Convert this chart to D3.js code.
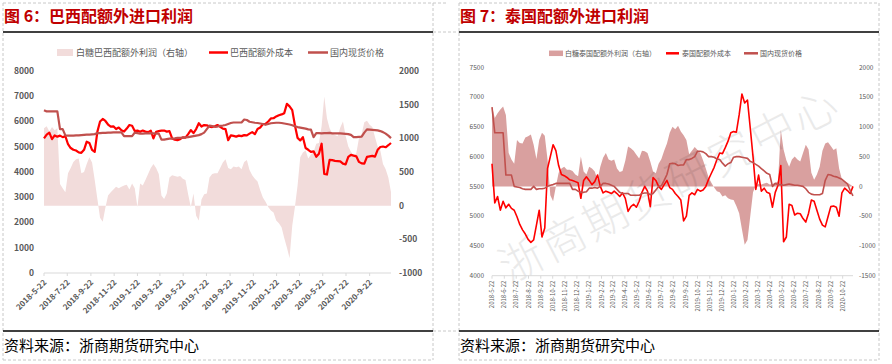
<!DOCTYPE html>
<html><head><meta charset="utf-8">
<script src="https://cdn.jsdelivr.net/npm/d3@7"></script>
<style>body{margin:0;background:#fff}svg{display:block}</style>
</head><body>
<svg id="c" width="892" height="364"></svg>
<script>
// weekly observations starting 2018-05-22
const startDate = "2018-05-22";

const brazilProfit = [1150,1180,1100,1170,1120,1150,320,260,200,480,
560,650,690,700,480,500,620,720,640,380,
100,-180,-240,-30,150,200,240,280,260,280,
300,310,240,330,260,-20,330,300,380,470,
560,620,560,470,150,100,180,420,450,440,
430,440,400,380,170,-20,180,-150,-220,90,
170,180,420,470,480,480,560,640,690,560,
540,580,570,580,540,650,680,530,450,400,
360,230,120,60,-20,-70,-100,-220,-260,-320,
-480,-620,-780,-300,-20,300,720,790,820,700,
760,800,920,930,1180,1620,1300,1150,1070,1050,
1030,1160,1250,1040,880,800,740,780,1000,1060,
1240,1260,1200,1170,1020,880,820,620,540,420,
200];
const brazilCost = [5330,5480,5560,5300,5450,5400,5440,5380,5420,5100,
4950,4880,4850,4780,4760,4880,5200,5150,4880,4800,
5600,6000,6100,6020,5880,5800,5810,5700,5760,5650,
5600,5720,5860,5830,5620,5640,5590,5640,5600,5580,
5640,5330,5590,5620,5640,5640,5600,5620,5330,5280,
5260,5300,5370,5360,5500,5660,5540,5700,5930,5800,
5860,5850,5800,5780,5810,5860,5790,5720,5700,5260,
5450,5430,5400,5440,5420,5460,5450,5520,5580,5500,
5700,5760,5900,5910,6000,6120,6130,6200,6250,6280,
6330,6700,6600,6450,5850,5350,5250,5380,4950,4880,
4800,4820,4600,4720,5120,3920,3900,4480,4470,4440,
4430,4420,4330,4300,4600,4680,4650,4620,4400,4340,
4330,4600,4620,4640,4610,4880,4990,5010,4980,5060,
5150];
const brazilPrice = [6450,6400,6400,6400,6400,6400,5700,5700,5450,5440,
5440,5440,5450,5450,5460,5470,5480,5480,5490,5500,
5540,5540,5550,5550,5560,5560,5570,5570,5570,5570,
5420,5420,5420,5420,5560,5540,5520,5520,5530,5530,
5530,5530,5520,5520,5280,5280,5300,5320,5320,5330,
5350,5350,5360,5370,5380,5400,5420,5440,5460,5500,
5560,5700,5840,5820,5790,5800,5830,5840,5860,5900,
5940,5960,5960,5960,5960,6080,6060,5990,5970,5950,
5940,5920,5900,5870,5900,5930,5940,5950,5950,5940,
5920,5900,5880,5850,5810,5780,5760,5740,5720,5690,
5680,5380,5540,5540,5530,5540,5540,5550,5530,5530,
5530,5530,5520,5510,5500,5470,5380,5380,5390,5400,
5560,5690,5680,5670,5660,5650,5620,5580,5520,5440,
5340];

const thaiProfit = [1340,1150,1230,1290,1340,1200,560,450,380,780,
730,720,820,840,870,700,460,780,900,850,
450,-150,-250,0,230,300,330,280,280,260,
200,170,500,250,200,330,300,250,110,330,
480,560,450,430,450,300,240,260,430,670,
640,600,530,470,600,590,560,420,250,220,
380,460,600,720,900,1000,960,1020,920,860,
780,540,600,660,610,560,440,300,150,60,
-20,-80,-100,-170,-150,-200,-220,-230,-330,-450,
-720,-980,-900,-500,-100,20,40,30,50,60,
30,40,60,80,950,620,440,330,450,500,
450,420,560,700,620,230,110,200,330,600,
720,740,680,610,640,300,120,80,60,30,
0];
const thaiCost = [5880,5220,5330,5100,5250,5140,5200,5130,5100,4990,
4860,4770,4700,4610,4560,4600,4850,5100,4650,4800,
5800,6000,6200,6100,5850,5700,5680,5650,5610,5600,
5580,5560,5300,5600,5660,5600,5530,5580,5690,5500,
5390,5420,5400,5380,5420,5380,5330,5390,5300,5080,
5160,5200,5150,5250,5400,5500,5420,5160,5650,5600,
5500,5450,5530,5600,5480,5450,5380,5330,5270,4920,
5000,5350,5390,5360,5450,5420,5440,5500,5620,5720,
5820,5950,6060,6050,6150,6260,6400,6420,6410,6700,
7050,6900,6950,6480,6000,5450,5690,5420,5470,5400,
5380,5150,5400,5520,5850,4570,4650,5200,5180,5020,
5050,5040,4960,4900,5050,5270,5250,5100,4950,4850,
4820,4990,5160,5170,5150,5000,5390,5470,5430,5380,
5500];
const thaiPrice = [6830,6400,6400,6400,6400,5690,5690,5690,5500,5490,
5480,5460,5450,5450,5450,5500,5450,5460,5460,5470,
5500,5520,5530,5550,5550,5550,5550,5550,5550,5450,
5450,5420,5400,5400,5410,5470,5470,5480,5470,5500,
5550,5550,5540,5520,5500,5450,5400,5380,5380,5380,
5350,5350,5350,5350,5380,5390,5390,5360,5380,5440,
5500,5510,5600,5700,5880,5890,5880,5850,5860,5860,
5950,5950,5970,6000,6090,6090,6080,6050,6000,6000,
5990,5960,5950,5890,5840,5880,5900,5990,6000,6000,
5990,5980,5970,5920,5900,5870,5840,5800,5760,5720,
5700,5500,5550,5530,5530,5520,5530,5540,5530,5520,
5520,5510,5500,5460,5400,5370,5360,5360,5360,5380,
5600,5700,5690,5670,5660,5640,5620,5580,5540,5430,
5340];

const brazilTickLabels = ["2018-5-22","2018-7-22","2018-9-22","2018-11-22","2019-1-22","2019-3-22","2019-5-22","2019-7-22","2019-9-22","2019-11-22","2020-1-22","2020-3-22","2020-5-22","2020-7-22","2020-9-22"];
const thaiTickLabels = ["2018-5-22","2018-6-22","2018-7-22","2018-8-22","2018-9-22","2018-10-22","2018-11-22","2018-12-22","2019-1-22","2019-2-22","2019-3-22","2019-4-22","2019-5-22","2019-6-22","2019-7-22","2019-8-22","2019-9-22","2019-10-22","2019-11-22","2019-12-22","2020-1-22","2020-2-22","2020-3-22","2020-4-22","2020-5-22","2020-6-22","2020-7-22","2020-8-22","2020-9-22","2020-10-22"];
const brazilLeftTicks = [0,1000,2000,3000,4000,5000,6000,7000,8000];
const brazilRightTicks = [-1000,-500,0,500,1000,1500,2000];
const thaiLeftTicks = [4000,4500,5000,5500,6000,6500,7000,7500];
const thaiRightTicks = [-1500,-1000,-500,0,500,1000,1500,2000];

const brazilTitle = "图 6：巴西配额外进口利润";
const thaiTitle = "图 7：泰国配额外进口利润";
const brazilLegend = ["白糖巴西配额外利润（右轴）","巴西配额外成本","国内现货价格"];
const thaiLegend = ["白糖泰国配额外利润（右轴）","泰国配额外成本","国内现货价格"];
const source = "资料来源：浙商期货研究中心";
const watermark = "浙商期货研究中心";

const FONT = "'Noto Sans CJK SC','Microsoft YaHei',sans-serif";
const svg = d3.select("#c");
const pd = s => { const [y,m,d] = s.split("-").map(Number); return new Date(y, m-1, d); };
const t0 = pd(startDate);
const dates = brazilCost.map((_, i) => d3.timeDay.offset(t0, 7*i));

// frame
const grid = svg.append("g").attr("stroke","#c8c8c8").attr("stroke-dasharray","3,2").attr("fill","none");
[[3,3,446,3],[459,3,879,3],[433,32,459,32],[433,331,459,331],[3,360,433,360],[459,360,879,360],
 [3,3,3,360],[433,3,433,360],[459,3,459,360],[879,3,879,360]].forEach(l=>{
  grid.append("line").attr("x1",l[0]).attr("y1",l[1]).attr("x2",l[2]).attr("y2",l[3]);
});

function panel(o){
  const g = svg.append("g");
  g.append("text").attr("x",o.x0+1).attr("y",22).text(o.title)
    .attr("font-family",FONT).attr("font-size",16).attr("font-weight","bold").attr("fill","#C00000");
  g.append("line").attr("x1",o.x0).attr("x2",o.x1).attr("y1",32).attr("y2",32).attr("stroke","#000").attr("stroke-width",1.5);
  g.append("line").attr("x1",o.x0).attr("x2",o.x1).attr("y1",331).attr("y2",331).attr("stroke","#000").attr("stroke-width",1.5);
  g.append("text").attr("x",o.x0+1).attr("y",351).text(source)
    .attr("font-family",FONT).attr("font-size",15).attr("fill","#000");

  const x = d3.scaleTime().domain([dates[0], dates[dates.length-1]]).range(o.xr);
  const yL = d3.scaleLinear().domain(d3.extent(o.lt)).range(o.yr);
  const yR = d3.scaleLinear().domain(d3.extent(o.rt)).range(o.yr);

  // area
  g.append("path").datum(o.profit)
    .attr("d", d3.area().x((d,i)=>x(dates[i])).y0(yR(0)).y1(d=>yR(d)))
    .attr("fill", o.areaColor);

  // watermark
  if (o.wm) {
    g.append("text").attr("transform","translate(668,182) rotate(-27)")
      .attr("text-anchor","middle").attr("dominant-baseline","central")
      .attr("font-family",FONT).attr("font-size",44).attr("font-weight",300)
      .attr("letter-spacing",3).attr("fill","#000").attr("opacity",0.08).text(watermark);
  }

  const line = d3.line().x((d,i)=>x(dates[i])).y(d=>yL(d));
  g.append("path").datum(o.cost).attr("d",line).attr("fill","none").attr("stroke","#FF0000").attr("stroke-width",o.lw).attr("stroke-linejoin","round");
  g.append("path").datum(o.price).attr("d",line).attr("fill","none").attr("stroke","#C0504D").attr("stroke-width",o.lw).attr("stroke-linejoin","round");

  // x axis
  const axY = o.yr[0];
  g.append("line").attr("x1",o.xr[0]).attr("x2",o.xr[1]).attr("y1",axY).attr("y2",axY).attr("stroke","#d9d9d9");
  o.ticks.forEach(s=>{
    const tx = x(pd(s));
    g.append("line").attr("x1",tx).attr("x2",tx).attr("y1",axY).attr("y2",axY+3).attr("stroke","#d9d9d9");
    const t = g.append("text").text(s).attr("font-family",FONT).attr("font-size",o.xfs)
      .attr("font-weight",o.bold).attr("fill","#595959").attr("text-anchor","end").attr("dy","0.35em");
    if (o.rot === -45) t.attr("transform",`translate(${tx+1},${axY+8}) rotate(-45)`);
    else t.attr("transform",`translate(${tx},${axY+5}) rotate(-90)`);
  });
  // y labels
  o.lt.forEach(v=>{
    g.append("text").attr("x",o.lx).attr("y",yL(v)).attr("dy","0.35em").attr("text-anchor","end").text(v)
      .attr("font-family",FONT).attr("font-size",o.yfs).attr("font-weight",o.bold).attr("fill","#595959");
  });
  o.rt.forEach(v=>{
    g.append("text").attr("x",o.rx).attr("y",yR(v)).attr("dy","0.35em").attr("text-anchor","start").text(v)
      .attr("font-family",FONT).attr("font-size",o.yfs).attr("font-weight",o.bold).attr("fill","#595959");
  });

  // legend
  const L = o.leg;
  g.append("rect").attr("x",L.sw[0]).attr("y",L.y-L.h/2).attr("width",L.sw[1]-L.sw[0]).attr("height",L.h).attr("fill",o.areaColor);
  g.append("line").attr("x1",L.l1[0]).attr("x2",L.l1[1]).attr("y1",L.y).attr("y2",L.y).attr("stroke","#FF0000").attr("stroke-width",2.5);
  g.append("line").attr("x1",L.l2[0]).attr("x2",L.l2[1]).attr("y1",L.y).attr("y2",L.y).attr("stroke","#C0504D").attr("stroke-width",2.5);
  [[L.t[0],o.legend[0]],[L.t[1],o.legend[1]],[L.t[2],o.legend[2]]].forEach(([tx,s])=>{
    g.append("text").attr("x",tx).attr("y",L.y).attr("dy","0.35em").text(s)
      .attr("font-family",FONT).attr("font-size",L.fs).attr("fill","#595959");
  });
}

panel({x0:3,x1:433,title:brazilTitle,legend:brazilLegend,xr:[44,391],yr:[273,71],
  lt:brazilLeftTicks,rt:brazilRightTicks,profit:brazilProfit,cost:brazilCost,price:brazilPrice,
  areaColor:"#F2DCDB",lw:2.2,ticks:brazilTickLabels,rot:-45,xfs:8,yfs:8.5,bold:"bold",lx:34,rx:399,wm:false,
  leg:{y:52.5,h:7,sw:[57,73],l1:[209,228],l2:[308,328],t:[76,230,330],fs:9}});

panel({x0:459,x1:879,title:thaiTitle,legend:thaiLegend,xr:[492,853],yr:[275.7,67.3],
  lt:thaiLeftTicks,rt:thaiRightTicks,profit:thaiProfit,cost:thaiCost,price:thaiPrice,
  areaColor:"#D9A09F",lw:1.6,ticks:thaiTickLabels,rot:-90,xfs:6,yfs:6.5,bold:"normal",lx:484,rx:859,wm:true,
  leg:{y:53.3,h:5.5,sw:[549,563],l1:[666,679],l2:[744,758],t:[565,682,760],fs:7}});
</script>
</body></html>
